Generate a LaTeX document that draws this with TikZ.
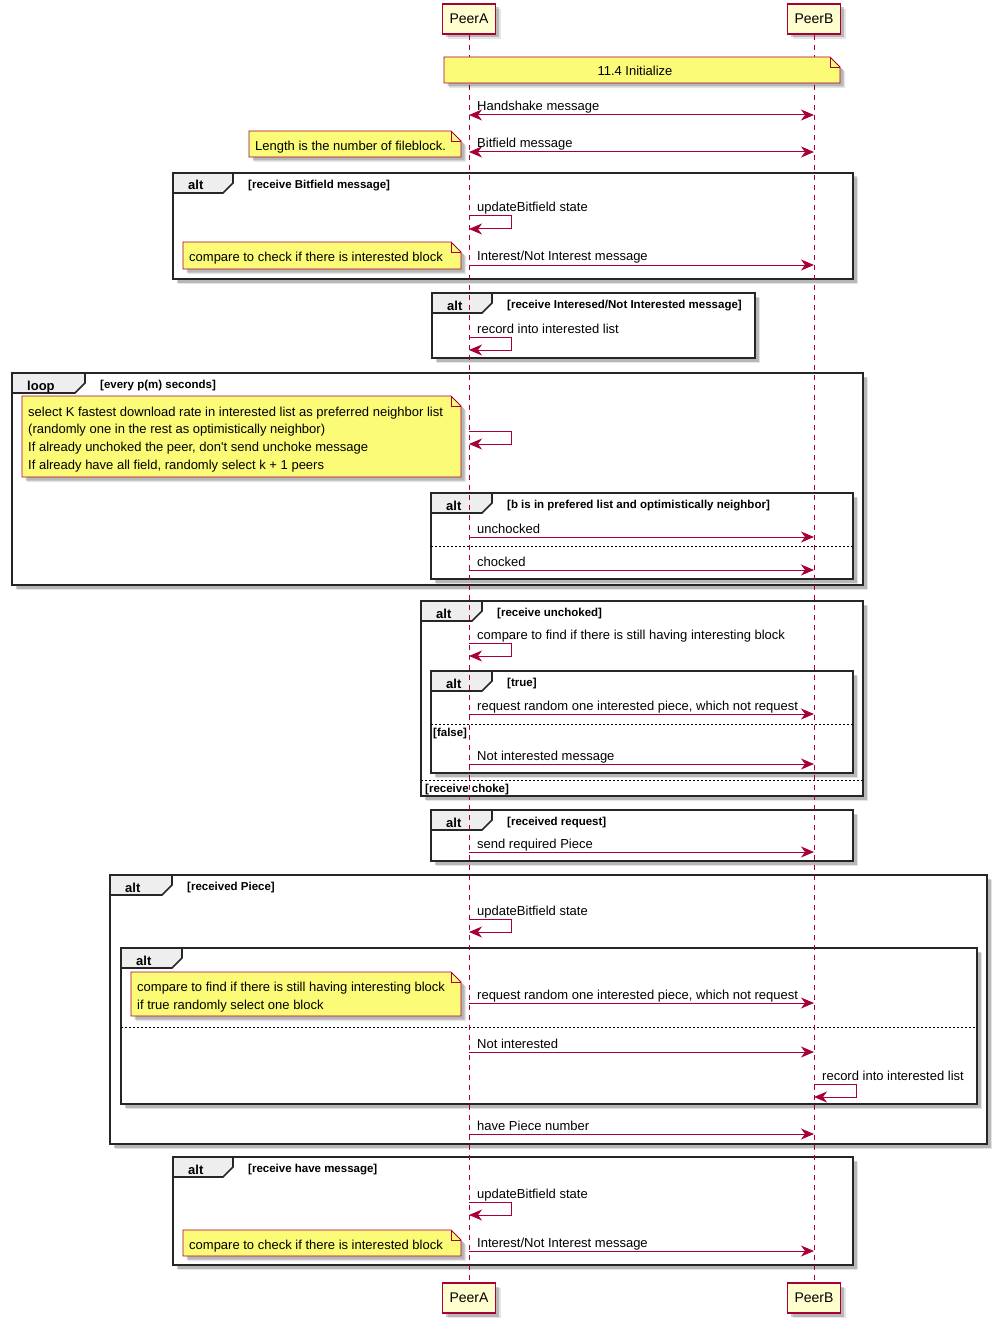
\documentclass[tikz,border=0pt]{standalone}
\usepackage{fontspec}
\setmainfont{Liberation Sans}
\usetikzlibrary{arrows.meta,shadows}

\definecolor{seqred}{HTML}{A80036}
\definecolor{partfill}{HTML}{FEFECE}
\definecolor{notefill}{HTML}{FBFB77}
\definecolor{tabfill}{HTML}{EEEEEE}

% combined fragment: name, x0, y0, x1, y1, tab right edge, keyword, guard
\newcommand\seqframe[8]{%
  \draw[framebox] (#2,#3) rectangle (#4,#5);
  \draw[frametab] (#2,#3) -- (#6,#3) -- (#6,#3+10) -- (#6-10,#3+20) -- (#2,#3+20) -- cycle;
  \node[kwtext] (#1k) at (#2+15,#3+17) {#7};
  \node[condtext] (#1c) at (#6+15,#3+15.5) {#8};
}
% dashed operand separator: x0, x1, y
\newcommand\seqsep[3]{\draw[sepline] (#1,#3) -- (#2,#3);}
% note outline with folded corner: x0, y0, x1, y1
\newcommand\seqnote[4]{%
  \draw[notebox] (#1,#2) -- (#3-10,#2) -- (#3,#2+10) -- (#3,#4) -- (#1,#4) -- cycle;
  \draw[notefold] (#3-10,#2) -- (#3-10,#2+10) -- (#3,#2+10);
}
% message from PeerA to PeerB: [style] name, y, label
\newcommand\msgab[4][msg]{%
  \coordinate (#2a) at (pA |- 0,#3);
  \coordinate (#2b) at (pB |- 0,#3);
  \draw[#1] (#2a) -- (#2b);
  \node[msgtext] (#2t) at ([xshift=8pt,yshift=4pt]#2a) {#4};
}
% self message: lifeline node, name, y, label
\newcommand\selfmsg[4]{%
  \coordinate (#2a) at (#1 |- 0,#3);
  \coordinate (#2b) at (#1 |- 0,#3+13);
  \draw[msg] (#2a) -- ++(42,0) -- ++(0,13) -- (#2b);
  \node[msgtext] (#2t) at ([xshift=8pt,yshift=4pt]#2a) {#4};
}

\begin{document}
\begin{tikzpicture}[x=1pt,y=-1pt,
  softshadow/.style={
    drop shadow={shadow xshift=5pt,shadow yshift=-5pt,fill=black,opacity=0.10},
    drop shadow={shadow xshift=3.5pt,shadow yshift=-3.5pt,fill=black,opacity=0.20}},
  part/.style={draw=seqred,line width=1.2pt,fill=partfill,minimum width=53pt,minimum height=30pt,
    inner sep=0pt,font=\fontsize{14}{16}\selectfont,softshadow},
  lifeline/.style={draw=seqred,line width=0.8pt,dash pattern=on 5pt off 5pt},
  framebox/.style={draw=black!85,line width=1.6pt,fill=white,softshadow},
  frametab/.style={draw=black!85,line width=1.6pt,fill=tabfill},
  sepline/.style={draw=black,line width=0.6pt,dash pattern=on 2pt off 2pt},
  notebox/.style={draw=seqred,line width=0.8pt,fill=notefill,softshadow},
  notefold/.style={draw=seqred,line width=0.8pt},
  msghead/.tip={Stealth[length=13pt,width=11pt,inset=4pt]},
  msg/.style={draw=seqred,line width=1pt,-msghead},
  msgboth/.style={draw=seqred,line width=1pt,msghead-msghead},
  msgtext/.style={anchor=base west,inner sep=0pt,font=\fontsize{13}{16}\selectfont},
  notetext/.style={anchor=base west,inner sep=0pt,font=\fontsize{13}{16}\selectfont},
  kwtext/.style={anchor=base west,inner sep=0pt,font=\fontsize{13}{16}\selectfont\bfseries},
  condtext/.style={anchor=base west,inner sep=0pt,font=\fontsize{11.5}{14}\selectfont\bfseries},
]
\useasboundingbox (0,0) rectangle (997,1324);
\fill[white] (0,0) rectangle (997,1324);

% participants
\node[part] (pA) at (469,19) {PeerA};
\node[part] (pB) at (814,19) {PeerB};
\node[part] (pAb) at (469,1298) {PeerA};
\node[part] (pBb) at (814,1298) {PeerB};

% combined fragments
\seqframe{f1}{173}{173}{853}{279}{233}{alt}{[receive Bitfield message]}
\seqframe{f2}{432}{293}{755}{358}{492}{alt}{[receive Interesed/Not Interested message]}
\seqframe{f3}{12}{373}{863}{585}{85}{loop}{[every p(m) seconds]}
\seqframe{f4}{431}{493}{853}{579}{492}{alt}{[b is in prefered list and optimistically neighbor]}
\seqsep{431}{853}{546}
\seqframe{f5}{421}{601}{863}{796}{482}{alt}{[receive unchoked]}
\seqframe{f6}{431}{671}{853}{773}{492}{alt}{[true]}
\seqsep{431}{853}{724}
\node[condtext] (e1) at (433,736) {[false]};
\seqsep{421}{863}{780}
\seqframe{f7}{431}{810}{853}{861}{492}{alt}{[received request]}
\seqframe{f8}{110}{875}{987}{1144}{172}{alt}{[received Piece]}
\seqframe{f9}{121}{948}{977}{1104}{182}{alt}{}
\seqsep{121}{977}{1027}
\seqframe{f10}{173}{1157}{853}{1265}{233}{alt}{[receive have message]}

% lifelines
\draw[lifeline] (pA) -- (pAb);
\draw[lifeline] (pB) -- (pBb);
\node[condtext] (e2) at (425,792) {[receive choke]};

% notes
\seqnote{444}{57}{840}{83}
\node[notetext,anchor=base] (n0) at (635,76) {11.4 Initialize};
\seqnote{249}{131}{461}{157}
\node[notetext] (n1) at (255,150.5) {Length is the number of fileblock.};
\seqnote{183}{242}{461}{269}
\node[notetext] (n2) at (189,261.5) {compare to check if there is interested block};
\seqnote{22}{396}{461}{477}
\node[notetext] (n3a) at (28,416) {select K fastest download rate in interested list as preferred neighbor list};
\node[notetext] (n3b) at (28,433.8) {(randomly one in the rest as optimistically neighbor)};
\node[notetext] (n3c) at (28,451.6) {If already unchoked the peer, don\textquotesingle t send unchoke message};
\node[notetext] (n3d) at (28,469.4) {If already have all field, randomly select k + 1 peers};
\seqnote{131}{972}{461}{1016}
\node[notetext] (n4a) at (137,991.5) {compare to find if there is still having interesting block};
\node[notetext] (n4b) at (137,1009.3) {if true randomly select one block};
\seqnote{183}{1230}{461}{1256}
\node[notetext] (n5) at (189,1249.5) {compare to check if there is interested block};

% messages
\msgab[msgboth]{hs}{115}{Handshake message}
\msgab[msgboth]{bf}{152}{Bitfield message}
\selfmsg{pA}{sa}{216}{updateBitfield state}
\msgab{ia}{265}{Interest/Not Interest message}
\selfmsg{pA}{sb}{337}{record into interested list}
\coordinate (sca) at (pA |- 0,431);
\coordinate (scb) at (pA |- 0,444);
\draw[msg] (sca) -- ++(42,0) -- ++(0,13) -- (scb);
\msgab{uc}{537}{unchocked}
\msgab{ch}{570}{chocked}
\selfmsg{pA}{sd}{643}{compare to find if there is still having interesting block}
\msgab{ra}{714}{request random one interested piece, which not request}
\msgab{na}{764}{Not interested message}
\msgab{sp}{852}{send required Piece}
\selfmsg{pA}{se}{919}{updateBitfield state}
\msgab{rb}{1003}{request random one interested piece, which not request}
\msgab{nb}{1052}{Not interested}
\selfmsg{pB}{sf}{1084}{record into interested list}
\msgab{hp}{1134}{have Piece number}
\selfmsg{pA}{sg}{1202}{updateBitfield state}
\msgab{ib}{1251}{Interest/Not Interest message}
\end{tikzpicture}
\end{document}
